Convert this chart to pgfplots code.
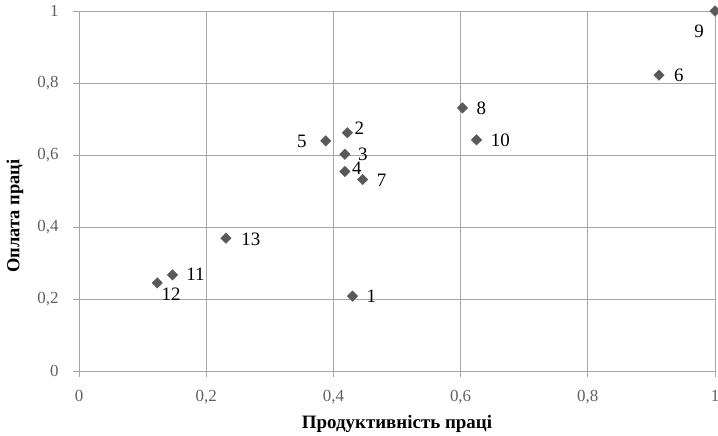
\documentclass[border=0pt]{standalone}
\usepackage{fontspec}
\setmainfont{Liberation Serif}
\usepackage{pgfplots}
\usepackage{pgfplotstable}
\pgfplotsset{compat=1.18}
\definecolor{gridc}{HTML}{A6A6A6}
\definecolor{markc}{HTML}{595959}
\definecolor{tickc}{HTML}{606060}

\pgfplotstableread{
x y lab dx dy
0.430 0.208 1 19 0
0.422 0.662 2 12 4
0.418 0.602 3 18 0
0.418 0.554 4 12 3
0.388 0.639 5 -24 0
0.912 0.822 6 20 0
0.446 0.532 7 19 -1
0.603 0.731 8 19 0
1.000 1.000 9 -16 -20
0.625 0.642 10 24 0
0.147 0.267 11 23 1
0.123 0.245 12 14 -11
0.231 0.369 13 25 -1
}\data

\begin{document}
\begin{tikzpicture}
\begin{axis}[
  name=ax,
  width=636bp, height=360bp, scale only axis,
  xmin=0, xmax=1, ymin=0, ymax=1,
  xtick={0,0.2,0.4,0.6,0.8,1},
  ytick={0,0.2,0.4,0.6,0.8,1},
  grid=major,
  major grid style={draw=gridc, line width=0.8bp},
  axis line style={draw=none},
  tick align=outside,
  major tick length=6bp,
  tick style={draw=gridc, line width=0.8bp},
  xtick pos=bottom, ytick pos=left,
  ticklabel style={font=\fontsize{17}{19}\selectfont, text=tickc},
  xticklabel style={yshift=-10bp},
  yticklabel style={xshift=-11bp},
  /pgf/number format/use comma,
  /pgf/number format/assume math mode=true,
  xlabel={Продуктивність праці},
  ylabel={Оплата праці},
  xlabel style={at={(axis description cs:0.5,-0.147)}, anchor=center, font=\bfseries\fontsize{19}{22}\selectfont},
  ylabel style={at={(axis description cs:-0.1006,0.43)}, anchor=center, rotate=0, font=\bfseries\fontsize{18.5}{22}\selectfont},
  clip=false,
]
\addplot[only marks, mark=square*, mark size=3.7bp,
  mark options={rotate=45, draw=markc, fill=markc},
  point meta=explicit symbolic,
  visualization depends on={\thisrow{dx} \as \dx},
  visualization depends on={\thisrow{dy} \as \dy},
  nodes near coords,
  nodes near coords style={anchor=center, xshift=\dx, yshift=\dy, font=\fontsize{19}{22}\selectfont, text=black, inner sep=0pt},
] table[x=x, y=y, meta=lab] {\data};
\end{axis}
\pgfresetboundingbox
\path[use as bounding box] ([shift={(-79bp,-65bp)}]ax.south west) rectangle ([shift={(3bp,11bp)}]ax.north east);
\end{tikzpicture}
\end{document}
